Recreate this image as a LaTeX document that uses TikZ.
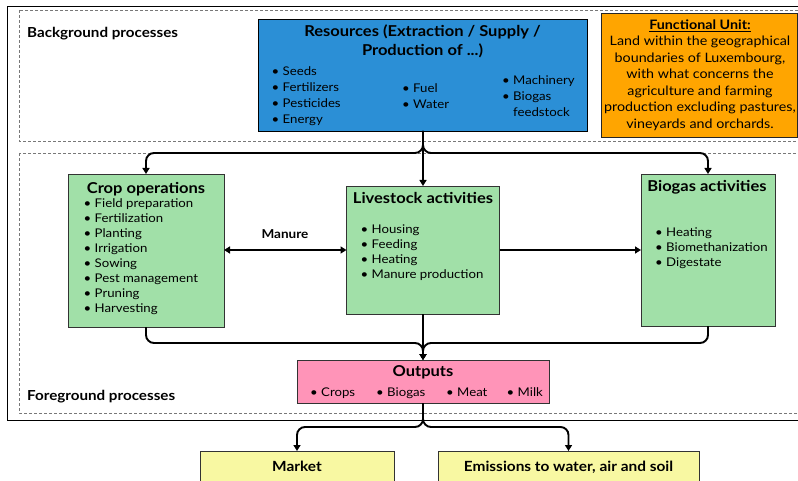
\documentclass[tikz,border=0pt]{standalone}
\usepackage{fontspec}
\setmainfont{Lato}[FakeStretch=1.1]
\usetikzlibrary{arrows.meta}
\definecolor{resblue}{RGB}{43,143,214}
\definecolor{fuorange}{RGB}{255,165,0}
\definecolor{actgreen}{RGB}{161,224,168}
\definecolor{outpink}{RGB}{255,148,184}
\definecolor{mktyellow}{RGB}{248,248,162}
\definecolor{dashgray}{RGB}{120,120,120}
\tikzset{
  boxnode/.style={draw=black!80, line width=0.9pt, inner sep=0pt, outer sep=0pt},
  frame/.style={draw=dashgray, line width=0.8pt, dash pattern=on 3pt off 2pt},
  conn/.style={draw=black, line width=1.9pt, rounded corners=8pt},
  arr/.style={conn, -{Triangle[width=7pt,length=6pt]}},
  dblarr/.style={conn, {Triangle[width=7pt,length=6pt]}-{Triangle[width=7pt,length=6pt]}},
  ttl/.style={inner sep=0pt, font=\fontsize{15}{19.5}\selectfont\bfseries, align=center},
  lst/.style={inner sep=0pt, align=left, anchor=north west},
  itm/.style={inner sep=0pt, font=\fontsize{12}{15}\selectfont, anchor=base west},
  lbl/.style={inner sep=0pt, font=\fontsize{13.8}{16}\selectfont\bfseries}
}
\newcommand{\bl}{\textbullet\ }
\begin{document}
\begin{tikzpicture}[x=1pt,y=-1pt]
\useasboundingbox (0,0) rectangle (798,481);
% frames
\draw[black, line width=0.9pt] (7,6) rectangle (805,420);
\draw[frame] (19,10) rectangle (805,141);
\draw[frame] (19,153) rectangle (805,413);
\node[lbl, anchor=base west] (bgl) at (27,37.5) {Background processes};
\node[lbl, anchor=base west] (fgl) at (27,400.5) {Foreground processes};

% boxes
\node[boxnode, draw=black, fill=resblue, minimum width=329pt, minimum height=112pt] (res) at (423,75) {};
\node[boxnode, draw=black!85, fill=fuorange, minimum width=196pt, minimum height=124pt] (fu) at (699,75) {};
\node[boxnode, fill=actgreen, minimum width=156pt, minimum height=153pt] (crop) at (146,250.5) {};
\node[boxnode, fill=actgreen, minimum width=153pt, minimum height=128pt] (livest) at (423,250) {};
\node[boxnode, fill=actgreen, minimum width=134pt, minimum height=152pt] (biogas) at (708,250) {};
\node[boxnode, fill=outpink, minimum width=252pt, minimum height=43pt] (out) at (423,381.5) {};
\node[boxnode, fill=mktyellow, minimum width=194pt, minimum height=44pt] (market) at (297,473) {};
\node[boxnode, fill=mktyellow, minimum width=261pt, minimum height=44pt] (emis) at (568.5,473) {};

% connectors
\coordinate (jtop) at (423,153);
\coordinate (jbot) at (423,343);
\coordinate (jout) at (423,427);
\draw[arr] (res.south) -- (livest.north);
\draw[arr] (res.south) -- (jtop) -| (crop.north);
\draw[arr] (res.south) -- (jtop) -| (biogas.north);
\draw[arr] (livest.south) -- (out.north);
\draw[arr] (crop.south) |- (jbot) -- (out.north);
\draw[arr] (biogas.south) |- (jbot) -- (out.north);
\draw[arr] (out.south) -- (jout) -| (market.north);
\draw[arr] (out.south) -- (jout) -| (emis.north);
\draw[dblarr] (crop.east |- livest.west) -- (livest.west);
\draw[arr] (livest.east) -- (livest.east -| biogas.west);
\node[inner sep=0pt, font=\fontsize{12.3}{15}\selectfont\bfseries, anchor=base] (manure) at (285,238.5) {Manure};

% resources text
\node[ttl, anchor=north] (rest) at (422.5,24.5) {Resources (Extraction / Supply /\\Production of ...)};
\node[lst, font=\fontsize{12}{16}\selectfont] (resl1) at (271.5,66.5) {\bl Seeds\\\bl Fertilizers\\\bl Pesticides\\\bl Energy};
\node[lst, font=\fontsize{12}{16}\selectfont] (resl2) at (402,83.5) {\bl Fuel\\\bl Water};
\node[lst, font=\fontsize{12}{16}\selectfont] (resl3) at (502,75.5) {\bl Machinery\\\bl Biogas\\\hphantom{\bl}feedstock};

% functional unit
\node[inner sep=0pt, anchor=north, align=center, font=\fontsize{13}{16.5}\selectfont] (fut) at (700,19.5)
  {\textbf{\underline{Functional Unit:}}\\Land within the geographical\\boundaries of Luxembourg,\\with what concerns the\\agriculture and farming\\production excluding pastures,\\vineyards and orchards.};

% crop
\node[ttl, anchor=north] (cropt) at (146,182) {Crop operations};
\node[lst, font=\fontsize{12}{15}\selectfont] (cropl) at (83.5,198.5) {\bl Field preparation\\\bl Fertilization\\\bl Planting\\\bl Irrigation\\\bl Sowing\\\bl Pest management\\\bl Pruning\\\bl Harvesting};

% livestock
\node[ttl, anchor=north] (livt) at (423,192) {Livestock activities};
\node[lst, font=\fontsize{12}{15}\selectfont] (livl) at (360.5,225) {\bl Housing\\\bl Feeding\\\bl Heating\\\bl Manure production};

% biogas
\node[ttl, anchor=north] (biot) at (707,180) {Biogas activities};
\node[lst, font=\fontsize{12}{15}\selectfont] (biol) at (655,228) {\bl Heating\\\bl Biomethanization\\\bl Digestate};

% outputs
\node[ttl, anchor=north] (outt) at (423,365) {Outputs};
\node[itm] (o1) at (310,396.5) {\bl Crops};
\node[itm] (o2) at (376,396.5) {\bl Biogas};
\node[itm] (o3) at (446,396.5) {\bl Meat};
\node[itm] (o4) at (506.5,396.5) {\bl Milk};

% bottom
\node[inner sep=0pt, font=\fontsize{14}{15}\selectfont\bfseries, anchor=base] (mktt) at (297,471) {Market};
\node[inner sep=0pt, font=\fontsize{14}{15}\selectfont\bfseries, anchor=base] (emt) at (568.5,471) {Emissions to water, air and soil};
\end{tikzpicture}
\end{document}
